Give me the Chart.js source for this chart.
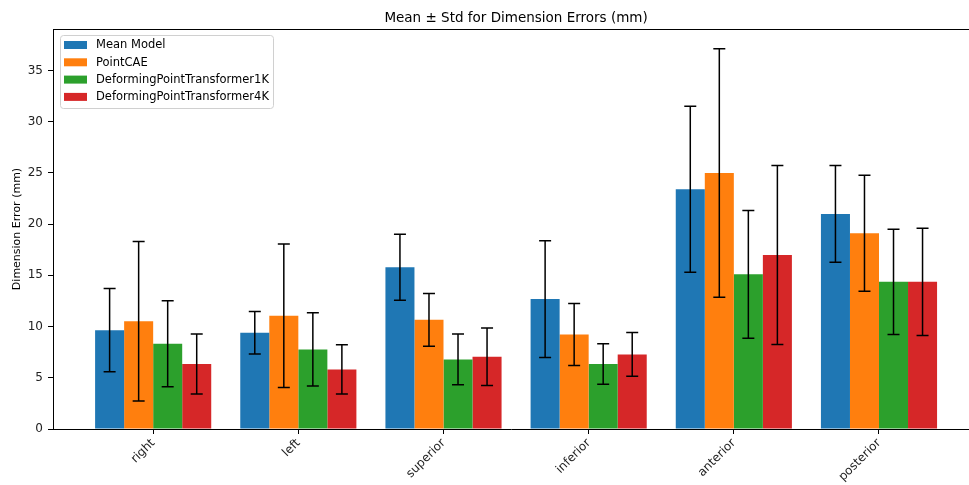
<!DOCTYPE html>
<html>
<head>
<meta charset="utf-8">
<script src="https://cdn.jsdelivr.net/npm/chart.js@4.4.1/dist/chart.umd.min.js"></script>
<style>
  html, body { margin: 0; padding: 0; background: #fff; }
  #wrap { width: 969px; height: 485px; position: relative; }
</style>
</head>
<body>
<div id="wrap"><canvas id="chart"></canvas></div>
<script>
const categories = ['right', 'left', 'superior', 'inferior', 'anterior', 'posterior'];
const models = ['Mean Model', 'PointCAE', 'DeformingPointTransformer1K', 'DeformingPointTransformer4K'];
const colors = ['#1f77b4', '#ff7f0e', '#2ca02c', '#d62728'];

const meanModel = [9.65, 9.4, 15.8, 12.68, 23.4, 21.0];
const pointCAE = [10.52, 11.05, 10.66, 9.23, 25.0, 19.12];
const dpt1k = [8.32, 7.77, 6.79, 6.34, 15.1, 14.37];
const dpt4k = [6.34, 5.82, 7.05, 7.28, 16.98, 14.37];

const meanModelStd = [4.07, 2.07, 3.22, 5.69, 8.1, 4.72];
const pointCAEStd = [7.78, 7.0, 2.57, 3.02, 12.13, 5.66];
const dpt1kStd = [4.2, 3.58, 2.48, 1.98, 6.24, 5.14];
const dpt4kStd = [2.93, 2.4, 2.8, 2.14, 8.74, 5.23];

const yTicks = [0, 5, 10, 15, 20, 25, 30, 35];

const series = [meanModel, pointCAE, dpt1k, dpt4k];
const stds = [meanModelStd, pointCAEStd, dpt1kStd, dpt4kStd];

const FONT = 'DejaVu Sans';
const TITLE = 'Mean ± Std for Dimension Errors (mm)';

// error bars drawn from the dataset's std values through the y scale
const errorBars = {
  id: 'errorBars',
  afterDatasetsDraw(chart) {
    const ctx = chart.ctx, y = chart.scales.y;
    ctx.save();
    ctx.strokeStyle = '#000';
    ctx.lineWidth = 1.5;
    chart.data.datasets.forEach((ds, d) => {
      chart.getDatasetMeta(d).data.forEach((el, i) => {
        const m = ds.data[i].y, s = ds.std[i];
        const top = y.getPixelForValue(m + s), bot = y.getPixelForValue(m - s);
        ctx.beginPath();
        ctx.moveTo(el.x, top); ctx.lineTo(el.x, bot);
        ctx.moveTo(el.x - 6, top); ctx.lineTo(el.x + 6, top);
        ctx.moveTo(el.x - 6, bot); ctx.lineTo(el.x + 6, bot);
        ctx.stroke();
      });
    });
    ctx.restore();
  }
};

// top spine, title (centred on the full axes, which runs past the crop), legend
const frameAndLegend = {
  id: 'frameAndLegend',
  afterDraw(chart) {
    const ctx = chart.ctx, a = chart.chartArea, x = chart.scales.x;
    ctx.save();
    ctx.strokeStyle = '#000';
    ctx.lineWidth = 1;
    ctx.beginPath();
    ctx.moveTo(a.left, Math.round(a.top) + 0.5);
    ctx.lineTo(chart.width, Math.round(a.top) + 0.5);
    ctx.stroke();

    ctx.fillStyle = '#000';
    ctx.font = '13.5px "' + FONT + '"';
    ctx.textAlign = 'center';
    ctx.textBaseline = 'middle';
    ctx.fillText(TITLE, x.getPixelForValue(2.5), 18);

    const bx = a.left + 7, by = a.top + 6, bw = 213, bh = 73;
    ctx.fillStyle = 'rgba(255,255,255,0.8)';
    ctx.strokeStyle = '#d0d0d0';
    ctx.beginPath();
    ctx.roundRect(bx + 0.5, by + 0.5, bw, bh, 3);
    ctx.fill();
    ctx.stroke();

    ctx.font = '11.5px "' + FONT + '"';
    ctx.textAlign = 'left';
    chart.data.datasets.forEach((ds, i) => {
      const cy = by + 10 + i * 17.3;
      ctx.fillStyle = ds.backgroundColor;
      ctx.fillRect(bx + 4, cy - 4, 23, 8);
      ctx.fillStyle = '#000';
      ctx.fillText(ds.label, bx + 36, cy + 0.5);
    });
    ctx.restore();
  }
};

new Chart(document.getElementById('chart'), {
  type: 'bar',
  data: {
    datasets: series.map((vals, s) => ({
      label: models[s],
      data: vals.map((v, i) => ({ x: i, y: v })),
      std: stds[s],
      backgroundColor: colors[s],
      borderWidth: 0,
      categoryPercentage: 0.8,
      barPercentage: 1.0
    }))
  },
  options: {
    responsive: true,
    maintainAspectRatio: false,
    animation: false,
    layout: { padding: { top: 29, right: 0, left: 0, bottom: 0 } },
    plugins: {
      legend: { display: false },
      tooltip: { enabled: false },
      title: { display: false }
    },
    scales: {
      x: {
        type: 'linear',
        min: -0.69,
        max: 5.62,
        offset: false,
        grid: { offset: false, drawOnChartArea: false, drawTicks: true, tickLength: 5, color: '#000' },
        border: { display: true, color: '#000' },
        afterBuildTicks: scale => { scale.ticks = categories.map((c, i) => ({ value: i })); },
        afterFit: scale => { scale.height = 56; },
        ticks: {
          color: '#222',
          font: { family: FONT, size: 12 },
          minRotation: 45,
          maxRotation: 45,
          padding: 2,
          callback: v => categories[v]
        }
      },
      y: {
        min: 0,
        max: 39.05,
        grid: { drawOnChartArea: false, drawTicks: true, tickLength: 5, color: '#000' },
        border: { display: true, color: '#000' },
        afterBuildTicks: scale => { scale.ticks = yTicks.map(v => ({ value: v })); },
        afterFit: scale => { scale.width = 53; },
        title: {
          display: true,
          text: 'Dimension Error (mm)',
          color: '#000',
          font: { family: FONT, size: 11 },
          padding: { top: 11, bottom: 0 }
        },
        ticks: {
          color: '#222',
          font: { family: FONT, size: 12 },
          padding: 5
        }
      }
    }
  },
  plugins: [errorBars, frameAndLegend]
});
</script>
</body>
</html>
